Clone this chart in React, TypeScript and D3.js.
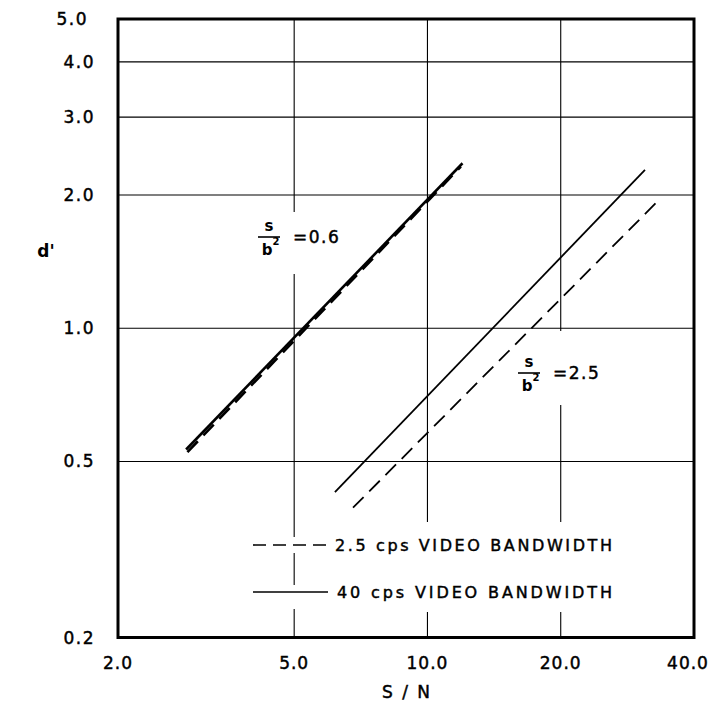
import React from "react";
import * as d3 from "d3";

// Axis ticks (log scales)
const xTicks = [2, 5, 10, 20, 40];
const xTickLabels = ["2.0", "5.0", "10.0", "20.0", "40.0"];
const yTicks = [0.2, 0.5, 1, 2, 3, 4, 5];
const yTickLabels = ["0.2", "0.5", "1.0", "2.0", "3.0", "4.0", "5.0"];
const xGrid = [5, 10, 20];
const yGrid = [0.5, 1, 2, 3, 4];

// d' versus S/N, two signal widths, two video bandwidths
const ratio06Wide: [number, number][] = [[2.85, 0.532], [12.0, 2.36]];
const ratio06Narrow: [number, number][] = [[2.87, 0.525], [11.9, 2.32]];
const ratio25Wide: [number, number][] = [[6.18, 0.426], [31.0, 2.28]];
const ratio25Narrow: [number, number][] = [[6.79, 0.393], [33.0, 1.93]];

const legendLabels = ["2.5 cps VIDEO BANDWIDTH", "40 cps VIDEO BANDWIDTH"];

const W = 714;
const H = 709;
const left = 118;
const right = 694;
const top = 19;
const bottom = 637.5;

const FONT = "'DejaVu Sans', sans-serif";
// light outline to give the lettering a slightly heavier stroke
const ink = { stroke: "#000", strokeWidth: 0.45 };

export default function App() {
  const x = d3.scaleLog().domain([2, 40]).range([left, right]);
  const y = d3.scaleLog().domain([0.2, 5]).range([bottom, top]);
  const line = d3
    .line<[number, number]>()
    .x((d) => x(d[0]))
    .y((d) => y(d[1]));

  const dash = "15 8";

  const fraction = (cx: number, cy: number, value: string) => (
    <g>
      <text x={cx} y={cy - 6} textAnchor="middle" fontSize={15} fontWeight="bold" fontFamily={FONT}>
        s
      </text>
      <line x1={cx - 11} x2={cx + 11} y1={cy} y2={cy} stroke="#000" strokeWidth={1.6} />
      <text x={cx - 2} y={cy + 18} textAnchor="middle" fontSize={15} fontWeight="bold" fontFamily={FONT}>
        b
      </text>
      <text x={cx + 7} y={cy + 8} textAnchor="middle" fontSize={10} fontWeight="bold" fontFamily={FONT}>
        2
      </text>
      <text x={cx + 24} y={cy + 6} fontSize={17} fontFamily={FONT} letterSpacing={1.5} {...ink}>
        {value}
      </text>
    </g>
  );

  return (
    <svg
      width={W}
      height={H}
      style={{ position: "absolute", left: 0, top: 0, background: "#fff" }}
    >
      <rect x={0} y={0} width={W} height={H} fill="#fff" />

      {/* grid */}
      {xGrid.map((v) => (
        <line key={"gx" + v} x1={x(v)} x2={x(v)} y1={top} y2={bottom} stroke="#000" strokeWidth={1.1} />
      ))}
      {yGrid.map((v) => (
        <line key={"gy" + v} x1={left} x2={right} y1={y(v)} y2={y(v)} stroke="#000" strokeWidth={1.1} />
      ))}

      {/* label knock-outs over the grid */}
      <rect x={262} y={212} width={86} height={62} fill="#fff" />
      <rect x={522} y={331} width={80} height={74} fill="#fff" />
      <rect x={331} y={522} width={290} height={90} fill="#fff" />
      <rect x={250} y={537} width={82} height={16} fill="#fff" />
      <rect x={250} y={585} width={82} height={24} fill="#fff" />

      {/* curves */}
      <path d={line(ratio06Wide) ?? ""} fill="none" stroke="#000" strokeWidth={2.6} />
      <path d={line(ratio06Narrow) ?? ""} fill="none" stroke="#000" strokeWidth={2.6} strokeDasharray={dash} />
      <path d={line(ratio25Wide) ?? ""} fill="none" stroke="#000" strokeWidth={1.8} />
      <path d={line(ratio25Narrow) ?? ""} fill="none" stroke="#000" strokeWidth={1.8} strokeDasharray={dash} />

      {/* curve labels */}
      {fraction(269, 237, "=0.6")}
      {fraction(529, 373, "=2.5")}

      {/* legend */}
      <line x1={253} x2={328} y1={545} y2={545} stroke="#000" strokeWidth={1.6} strokeDasharray="13 7" />
      <text x={335} y={551} fontSize={16} fontFamily={FONT} textLength={277} lengthAdjust="spacing" {...ink}>
        {legendLabels[0]}
      </text>
      <line x1={253} x2={328} y1={592} y2={592} stroke="#000" strokeWidth={1.6} />
      <text x={337} y={598} fontSize={16} fontFamily={FONT} textLength={275} lengthAdjust="spacing" {...ink}>
        {legendLabels[1]}
      </text>

      {/* frame */}
      <rect x={left} y={top} width={right - left} height={bottom - top} fill="none" stroke="#000" strokeWidth={3} />

      {/* axis tick labels */}
      {xTicks.map((v, i) => (
        <text
          key={"xt" + v}
          x={v === 40 ? x(v) - 6 : x(v)}
          y={669}
          textAnchor="middle"
          fontSize={17}
          fontFamily={FONT}
          letterSpacing={1}
          {...ink}
        >
          {xTickLabels[i]}
        </text>
      ))}
      {yTicks.map((v, i) => (
        <text
          key={"yt" + v}
          x={v === 5 ? 88 : 95}
          y={y(v) + 6}
          textAnchor="end"
          fontSize={17}
          fontFamily={FONT}
          letterSpacing={1.5}
          {...ink}
        >
          {yTickLabels[i]}
        </text>
      ))}

      {/* axis titles */}
      <text x={407} y={698} textAnchor="middle" fontSize={17} fontFamily={FONT} letterSpacing={2} {...ink}>
        S / N
      </text>
      <text x={46} y={257} textAnchor="middle" fontSize={17} fontWeight="bold" fontFamily={FONT}>
        d'
      </text>
    </svg>
  );
}
